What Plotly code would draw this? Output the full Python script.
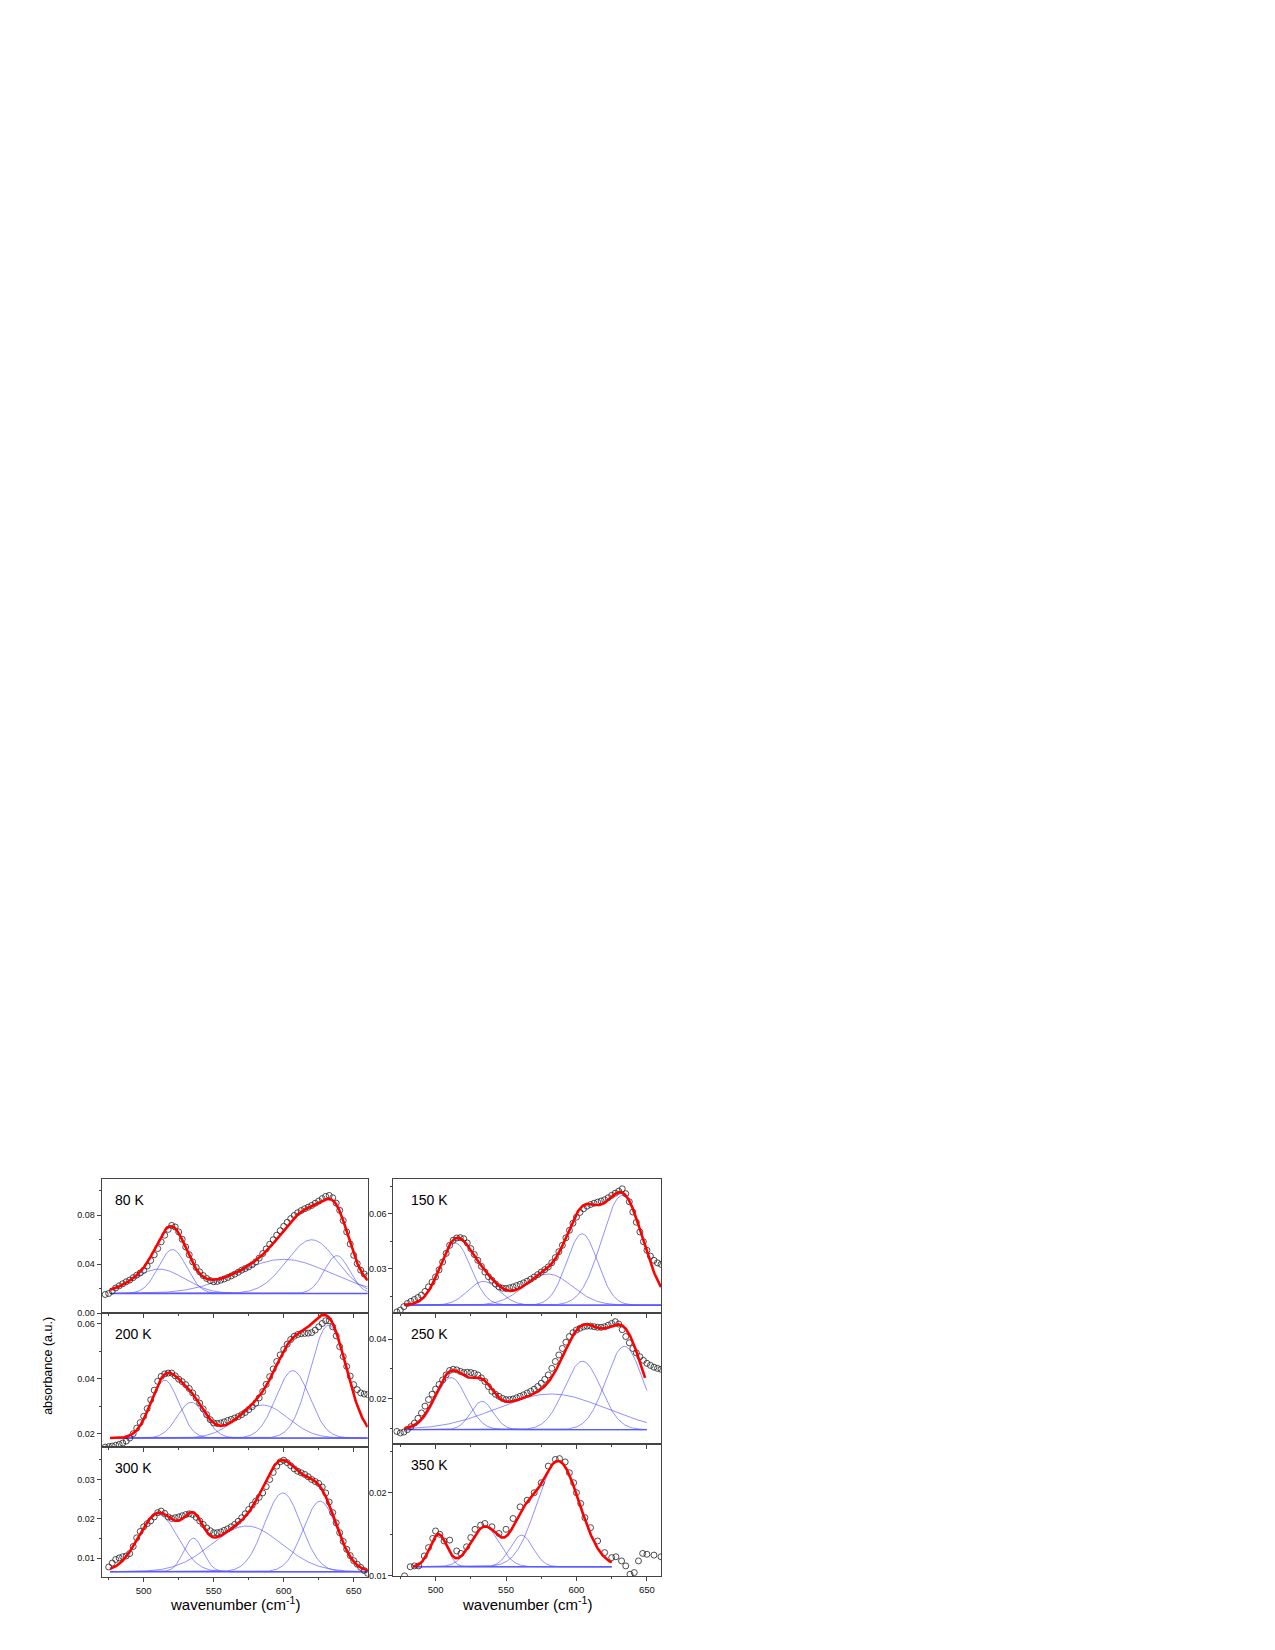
import numpy as np
import plotly.graph_objects as go

# ---------------- data ----------------
labels = ["80 K", "150 K", "200 K", "250 K", "300 K", "350 K"]

# measured absorbance, sampled every 2.5 cm-1 starting at x_start
y80 = [0.0152, 0.0160, 0.0180, 0.0205, 0.0223, 0.0240, 0.0256, 0.0270, 0.0290, 0.0310, 0.0328, 0.0350,
       0.0385, 0.0430, 0.0477, 0.0528, 0.0583, 0.0637, 0.0685, 0.0718, 0.0705, 0.0664, 0.0604, 0.0541,
       0.0478, 0.0419, 0.0373, 0.0337, 0.0307, 0.0283, 0.0266, 0.0256, 0.0259, 0.0269, 0.0279, 0.0291,
       0.0304, 0.0318, 0.0334, 0.0351, 0.0364, 0.0378, 0.0396, 0.0419, 0.0450, 0.0487, 0.0525, 0.0563,
       0.0600, 0.0637, 0.0674, 0.0710, 0.0743, 0.0773, 0.0799, 0.0822, 0.0839, 0.0854, 0.0867, 0.0881,
       0.0899, 0.0917, 0.0937, 0.0955, 0.0963, 0.0944, 0.0900, 0.0841, 0.0757, 0.0664, 0.0565, 0.0473,
       0.0405, 0.0351, 0.0320, 0.0302]

y150 = [0.0063, 0.0073, 0.0092, 0.0109, 0.0121, 0.0131, 0.0142, 0.0155, 0.0175, 0.0200, 0.0226, 0.0254,
        0.0293, 0.0336, 0.0383, 0.0427, 0.0455, 0.0467, 0.0469, 0.0463, 0.0440, 0.0409, 0.0377, 0.0345,
        0.0312, 0.0281, 0.0256, 0.0236, 0.0216, 0.0200, 0.0193, 0.0191, 0.0195, 0.0200, 0.0207, 0.0214,
        0.0222, 0.0231, 0.0242, 0.0254, 0.0267, 0.0281, 0.0294, 0.0309, 0.0332, 0.0360, 0.0392, 0.0427,
        0.0468, 0.0509, 0.0548, 0.0581, 0.0607, 0.0627, 0.0641, 0.0650, 0.0657, 0.0663, 0.0669, 0.0676,
        0.0687, 0.0700, 0.0712, 0.0723, 0.0736, 0.0709, 0.0665, 0.0609, 0.0553, 0.0500, 0.0447, 0.0400,
        0.0368, 0.0345, 0.0331, 0.0323]

y200 = [0.0151, 0.0153, 0.0155, 0.0158, 0.0161, 0.0166, 0.0173, 0.0184, 0.0200, 0.0220, 0.0240, 0.0263,
        0.0291, 0.0323, 0.0358, 0.0390, 0.0408, 0.0417, 0.0420, 0.0420, 0.0410, 0.0398, 0.0389, 0.0378,
        0.0364, 0.0348, 0.0330, 0.0311, 0.0290, 0.0269, 0.0251, 0.0239, 0.0237, 0.0239, 0.0243, 0.0248,
        0.0252, 0.0257, 0.0262, 0.0269, 0.0277, 0.0287, 0.0298, 0.0311, 0.0330, 0.0353, 0.0379, 0.0407,
        0.0435, 0.0462, 0.0486, 0.0506, 0.0525, 0.0542, 0.0554, 0.0560, 0.0563, 0.0564, 0.0565, 0.0567,
        0.0576, 0.0588, 0.0600, 0.0610, 0.0610, 0.0588, 0.0555, 0.0516, 0.0480, 0.0444, 0.0409, 0.0378,
        0.0360, 0.0348, 0.0344, 0.0342]

y250 = [0.0090, 0.0085, 0.0088, 0.0096, 0.0106, 0.0118, 0.0134, 0.0152, 0.0175, 0.0197, 0.0215, 0.0232,
        0.0248, 0.0263, 0.0280, 0.0295, 0.0299, 0.0297, 0.0292, 0.0288, 0.0289, 0.0288, 0.0285, 0.0280,
        0.0270, 0.0258, 0.0241, 0.0225, 0.0215, 0.0208, 0.0201, 0.0197, 0.0197, 0.0199, 0.0203, 0.0208,
        0.0213, 0.0219, 0.0225, 0.0232, 0.0241, 0.0252, 0.0265, 0.0280, 0.0302, 0.0325, 0.0347, 0.0369,
        0.0390, 0.0409, 0.0422, 0.0431, 0.0437, 0.0442, 0.0444, 0.0444, 0.0442, 0.0440, 0.0440, 0.0442,
        0.0447, 0.0453, 0.0459, 0.0451, 0.0432, 0.0409, 0.0388, 0.0369, 0.0354, 0.0341, 0.0329, 0.0319,
        0.0312, 0.0306, 0.0302, 0.0299]

y300 = [0.0078, 0.0088, 0.0097, 0.0101, 0.0104, 0.0106, 0.0112, 0.0130, 0.0152, 0.0168, 0.0180, 0.0188,
        0.0195, 0.0205, 0.0216, 0.0220, 0.0214, 0.0205, 0.0201, 0.0203, 0.0205, 0.0208, 0.0211, 0.0213,
        0.0211, 0.0204, 0.0195, 0.0186, 0.0177, 0.0170, 0.0165, 0.0165, 0.0167, 0.0171, 0.0175, 0.0180,
        0.0186, 0.0194, 0.0203, 0.0213, 0.0224, 0.0235, 0.0245, 0.0255, 0.0266, 0.0282, 0.0300, 0.0318,
        0.0334, 0.0345, 0.0349, 0.0343, 0.0335, 0.0327, 0.0321, 0.0317, 0.0313, 0.0307, 0.0300, 0.0295,
        0.0290, 0.0281, 0.0266, 0.0243, 0.0216, 0.0190, 0.0165, 0.0143, 0.0123, 0.0107, 0.0094, 0.0085,
        0.0077, 0.0069, 0.0062]

x350 = [478, 482, 485, 488, 492, 495, 498, 500, 503, 506, 510, 515, 518, 522, 525, 528, 532, 535, 540, 545,
        550, 555, 560, 565, 570, 575, 580, 585, 588, 592, 595, 598, 600, 603, 606, 610, 615, 620, 625, 628,
        632, 635, 638, 641, 644, 647, 650, 655, 660]
y350 = [0.0100, 0.0111, 0.0112, 0.0112, 0.0124, 0.0134, 0.0145, 0.0154, 0.0150, 0.0142, 0.0143, 0.0130, 0.0127,
        0.0135, 0.0146, 0.0156, 0.0161, 0.0163, 0.0159, 0.0151, 0.0156, 0.0169, 0.0183, 0.0191, 0.0200, 0.0212,
        0.0232, 0.0240, 0.0241, 0.0237, 0.0224, 0.0212, 0.0200, 0.0187, 0.0170, 0.0158, 0.0142, 0.0128, 0.0122,
        0.0123, 0.0118, 0.0112, 0.0102, 0.0104, 0.0118, 0.0127, 0.0126, 0.0125, 0.0123]

x_start = [472.5, 472.5, 472.5, 472.5, 475.0]
x_step = 2.5

# Gaussian fit components: baseline, peak centres (cm-1), heights, widths (sigma), fit range
base = [0.0160, 0.0100, 0.0184, 0.0096, 0.0066, 0.0111]
centers = [[511, 520.5, 600, 620, 638],
           [514, 534, 580, 604, 632.5],
           [515, 534, 585, 606.5, 632],
           [511, 533, 582, 604.3, 634],
           [510.4, 535.5, 573.6, 599.3, 626],
           [502, 535, 561, 587]]
heights = [[0.020, 0.036, 0.028, 0.044, 0.031],
           [0.034, 0.013, 0.017, 0.039, 0.060],
           [0.021, 0.013, 0.012, 0.0245, 0.041],
           [0.0175, 0.0095, 0.012, 0.023, 0.028],
           [0.0145, 0.0085, 0.0116, 0.020, 0.0179],
           [0.0039, 0.0048, 0.0038, 0.0127]]
widths = [[18, 10, 33, 18, 9],
          [11, 11, 17, 11, 14.5],
          [10, 10, 18, 12, 13],
          [11, 8, 38, 13, 13],
          [14, 7, 25, 13, 12],
          [6, 10, 8, 15]]
fit_from = [476, 478, 476, 478, 476, 484]
fit_to = [660, 660, 660, 649, 660, 625]
comp_to = [660, 660, 660, 650, 660, 625]

ys = [y80, y150, y200, y250, y300, y350]
xs = [[x_start[i] + x_step * k for k in range(len(ys[i]))] for i in range(5)] + [x350]

y_ranges = [[0, 0.1094], [0.0057, 0.0787], [0.0153, 0.0638], [0.0049, 0.0488], [0.0052, 0.03835], [0.00996, 0.0259]]
y_dtick = [0.04, 0.03, 0.02, 0.02, 0.01, 0.01]

# ---------------- layout geometry (page pixels; the page body adds a margin) ----------------
W, H = 1275, 1650
OX, OY = 8, 4
col_px = [(101.7 - OX, 367.7 - OX), (393.3 - OX, 661.0 - OX)]
row_px_left = [(1179 - OY, 1313 - OY), (1313 - OY, 1447 - OY), (1447 - OY, 1578 - OY)]
row_px_right = [(1179 - OY, 1313 - OY), (1313 - OY, 1444 - OY), (1444 - OY, 1577 - OY)]

fig = go.Figure()
annotations = []
layout = {}

blue = "rgba(70,70,255,0.75)"
FONT = "Liberation Sans, Arial, sans-serif"

for i in range(6):
    col = i % 2
    row = i // 2
    ax = "" if i == 0 else str(i + 1)
    xa, ya = "x" + ax, "y" + ax
    x0p, x1p = col_px[col]
    r = row_px_left[row] if col == 0 else row_px_right[row]
    xdom = [x0p / W, x1p / W]
    ydom = [1 - r[1] / H, 1 - r[0] / H]

    # components
    xc = np.linspace(fit_from[i], comp_to[i], 400)
    total = np.full_like(xc, base[i])
    for c, h, s in zip(centers[i], heights[i], widths[i]):
        g = h * np.exp(-((xc - c) ** 2) / (2 * s * s))
        total = total + g
        fig.add_trace(go.Scatter(x=xc, y=base[i] + g, mode="lines", xaxis=xa, yaxis=ya,
                                 line=dict(color=blue, width=0.8), showlegend=False, hoverinfo="skip"))
    fig.add_trace(go.Scatter(x=[fit_from[i], comp_to[i]], y=[base[i], base[i]], mode="lines", xaxis=xa, yaxis=ya,
                             line=dict(color="rgb(90,90,255)", width=1.4), showlegend=False, hoverinfo="skip"))
    # data circles
    fig.add_trace(go.Scatter(x=xs[i], y=ys[i], mode="markers", xaxis=xa, yaxis=ya,
                             marker=dict(symbol="circle-open", size=6, color="#222", line=dict(width=0.8)),
                             showlegend=False))
    # fit line
    m = xc <= fit_to[i]
    fig.add_trace(go.Scatter(x=xc[m], y=total[m], mode="lines", xaxis=xa, yaxis=ya,
                             line=dict(color="#ff0000", width=2.6), showlegend=False))

    bottom = row == 2
    layout["xaxis" + ax] = dict(
        domain=xdom, anchor=ya, range=[470, 660], showline=True, mirror=True, linecolor="#444", linewidth=1,
        ticks="outside", ticklen=4, tickcolor="#444", tickvals=[500, 550, 600, 650],
        showticklabels=bottom, tickfont=dict(family=FONT, size=9.5, color="#111"),
        minor=dict(ticks="outside", ticklen=2, tickcolor="#444", tickvals=[475, 525, 575, 625]),
        showgrid=False, zeroline=False,
    )
    layout["yaxis" + ax] = dict(
        domain=ydom, anchor=xa, range=y_ranges[i], showline=True, mirror=True, linecolor="#444", linewidth=1,
        ticks="outside", ticklen=4, tickcolor="#444", tick0=0, dtick=y_dtick[i], tickformat=".2f",
        tickfont=dict(family=FONT, size=9, color="#111"),
        minor=dict(ticks="outside", ticklen=2, tickcolor="#444", dtick=y_dtick[i] / 2, tick0=0),
        showgrid=False, zeroline=False,
    )
    # panel label
    annotations.append(dict(text=labels[i], xref="paper", yref="paper",
                            x=(x0p + (11 if col == 0 else 16)) / W, y=1 - (r[0] + 21) / H,
                            xanchor="left", yanchor="middle", showarrow=False,
                            font=dict(family=FONT, size=14, color="#000")))

# axis titles
for cx in [(col_px[0][0] + col_px[0][1]) / 2, (col_px[1][0] + col_px[1][1]) / 2]:
    annotations.append(dict(text="wavenumber (cm<sup>-1</sup>)", xref="paper", yref="paper",
                            x=cx / W, y=1 - (1604 - OY) / H, xanchor="center", yanchor="middle", showarrow=False,
                            font=dict(family=FONT, size=15, color="#000")))
annotations.append(dict(text="absorbance (a.u.)", xref="paper", yref="paper", x=(48 - OX) / W,
                        y=1 - (1366 - OY) / H,
                        xanchor="center", yanchor="middle", textangle=-90, showarrow=False,
                        font=dict(family=FONT, size=12.5, color="#000")))

fig.update_layout(width=W, height=H, margin=dict(l=0, r=0, t=0, b=0), paper_bgcolor="white",
                  plot_bgcolor="white", showlegend=False, annotations=annotations, **layout)

fig.write_html("out.html")
